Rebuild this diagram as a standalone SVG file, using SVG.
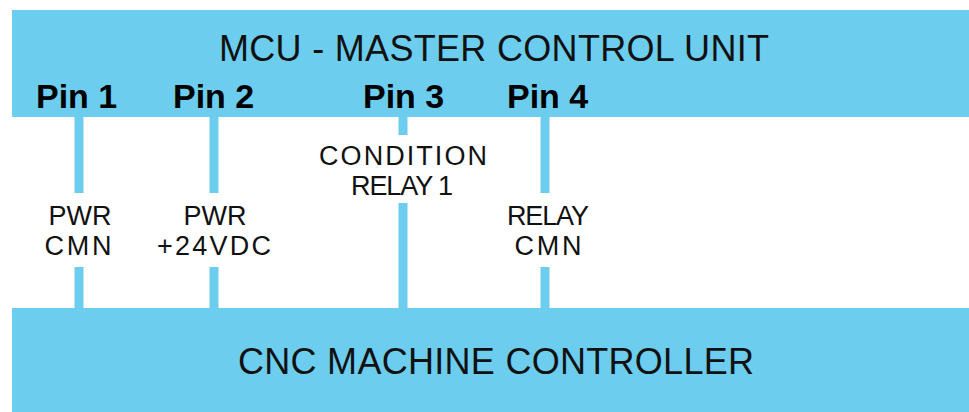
<svg xmlns="http://www.w3.org/2000/svg" width="969" height="412" viewBox="0 0 969 412">
  <style>
    .box { fill: #6ccdee; }
    .wire { stroke: #6ccdee; stroke-width: 9; fill: none; }
    .title { font-family: "Liberation Sans", Arial, sans-serif; font-size: 36px; fill: #111; text-anchor: middle; }
    .pin { font-family: "Liberation Sans", Arial, sans-serif; font-size: 34px; font-weight: bold; fill: #000; }
    .lbl { font-family: "Liberation Sans", Arial, sans-serif; font-size: 27px; fill: #111; text-anchor: middle; }
  </style>
  <rect width="969" height="412" fill="#ffffff"/>
  <g id="connectors">
    <path class="wire" d="M79 116 V193 M79 267 V309"/>
    <path class="wire" d="M214 116 V193 M214 267 V309"/>
    <path class="wire" d="M403 116 V135 M403 203 V309"/>
    <path class="wire" d="M545 116 V193 M545 267 V309"/>
  </g>
  <g id="mcu">
    <rect class="box" x="12" y="10" width="957" height="107"/>
    <text class="title" x="494" y="61" textLength="550" lengthAdjust="spacing">MCU - MASTER CONTROL UNIT</text>
    <text class="pin" x="36" y="108">Pin 1</text>
    <text class="pin" x="173" y="108">Pin 2</text>
    <text class="pin" x="363" y="108">Pin 3</text>
    <text class="pin" x="507" y="108">Pin 4</text>
  </g>
  <g id="label-pin1">
    <text class="lbl" x="80" y="225">PWR</text>
    <text class="lbl" x="78" y="255" textLength="67" lengthAdjust="spacing">CMN</text>
  </g>
  <g id="label-pin2">
    <text class="lbl" x="215" y="225">PWR</text>
    <text class="lbl" x="214" y="255" textLength="114" lengthAdjust="spacing">+24VDC</text>
  </g>
  <g id="label-pin3">
    <text class="lbl" x="403" y="165" textLength="168" lengthAdjust="spacing">CONDITION</text>
    <text class="lbl" x="402" y="195" textLength="102" lengthAdjust="spacing">RELAY 1</text>
  </g>
  <g id="label-pin4">
    <text class="lbl" x="548" y="225" textLength="82" lengthAdjust="spacing">RELAY</text>
    <text class="lbl" x="548" y="255" textLength="67" lengthAdjust="spacing">CMN</text>
  </g>
  <g id="cnc">
    <rect class="box" x="12" y="308" width="957" height="104"/>
    <text class="title" x="496" y="374" textLength="516" lengthAdjust="spacing">CNC MACHINE CONTROLLER</text>
  </g>
</svg>
